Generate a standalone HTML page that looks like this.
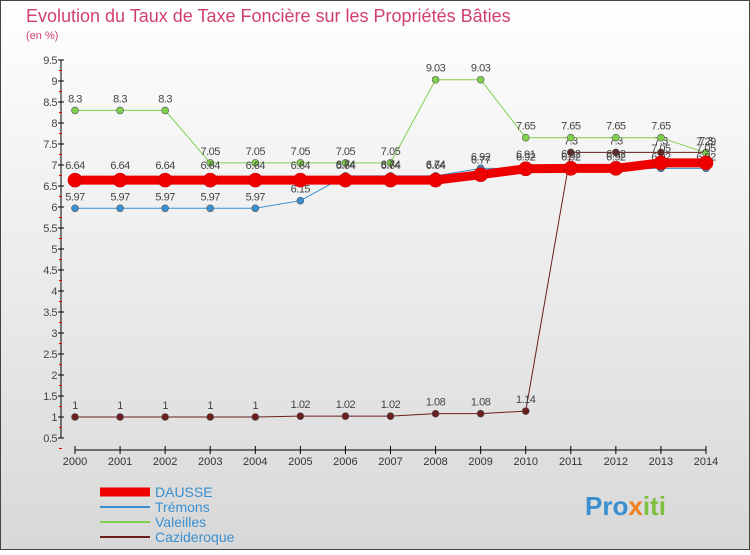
<!DOCTYPE html>
<html><head><meta charset="utf-8"><style>
body{margin:0;width:750px;height:550px;overflow:hidden;font-family:"Liberation Sans",sans-serif}
</style></head><body>
<svg id="c" width="750" height="550" xmlns="http://www.w3.org/2000/svg">
<defs><linearGradient id="bg" x1="0" y1="0" x2="0" y2="1"><stop offset="0" stop-color="#ffffff"/><stop offset="1" stop-color="#d8d8d8"/></linearGradient></defs>
<rect x="0.5" y="0.5" width="749" height="549" fill="url(#bg)" stroke="#444"/>
<text x="26" y="22" font-size="18" fill="#d0406a">Evolution du Taux de Taxe Foncière sur les Propriétés Bâties</text>
<text x="26" y="39" font-size="11" fill="#d0406a">(en %)</text>
<g id="axes"></g><g id="series"></g><g id="legend"></g>
<text x="585" y="515" font-size="26" font-weight="bold" fill="#3a8fd0">Pro<tspan fill="#f08020">x</tspan><tspan fill="#80c040">iti</tspan></text>
</svg>
<script>
const years=[2000,2001,2002,2003,2004,2005,2006,2007,2008,2009,2010,2011,2012,2013,2014];
const yTicks=[0.5,1,1.5,2,2.5,3,3.5,4,4.5,5,5.5,6,6.5,7,7.5,8,8.5,9,9.5];
const dausse=[6.64,6.64,6.64,6.64,6.64,6.64,6.64,6.64,6.64,6.77,6.91,6.92,6.92,7.05,7.05];
const tremons=[5.97,5.97,5.97,5.97,5.97,6.15,6.74,6.74,6.74,6.92,6.92,6.92,6.92,6.92,6.92];
const valeilles=[8.3,8.3,8.3,7.05,7.05,7.05,7.05,7.05,9.03,9.03,7.65,7.65,7.65,7.65,7.29];
const cazideroque=[1,1,1,1,1,1.02,1.02,1.02,1.08,1.08,1.14,7.3,7.3,7.3,7.3];
const NS="http://www.w3.org/2000/svg";
const X=i=>75+i*(706-75)/(years.length-1);
const Y=v=>438-(v-0.5)*42;
function mk(p,t,a){const e=document.createElementNS(NS,t);for(const k in a)e.setAttribute(k,a[k]);p.appendChild(e);return e;}
const ax=document.getElementById('axes');
const yl=mk(ax,'line',{x1:61,y1:Y(9.5),x2:61,y2:Y(0.5),stroke:'#000'});


yTicks.forEach(v=>{
  mk(ax,'line',{x1:58,y1:Y(v),x2:64,y2:Y(v),stroke:'#000'});
  mk(ax,'line',{x1:59,y1:Y(v)+10.5,x2:62,y2:Y(v)+10.5,stroke:'#e00'});
  const t=mk(ax,'text',{x:57,y:Y(v)+4,'text-anchor':'end','font-size':11,fill:'#444','letter-spacing':'-0.5'});
  t.textContent=v;
  
  
});
const xl=mk(ax,'line',{x1:X(0),y1:450,x2:X(14),y2:450,stroke:'#000'});


years.forEach((y,i)=>{
  mk(ax,'line',{x1:X(i),y1:446,x2:X(i),y2:454,stroke:'#000'});
  const t=mk(ax,'text',{x:X(i),y:465,'text-anchor':'middle','font-size':11,fill:'#333'});
  t.textContent=y;
  
  
});
const sg=document.getElementById('series');
const series=[
 {name:'cazideroque',d:cazideroque,c:'#6b1e1e',w:1,r:3.5},
 {name:'valeilles',d:valeilles,c:'#80d050',w:1,r:3.5},
 {name:'tremons',d:tremons,c:'#3a8fd0',w:1,r:3.5},
 {name:'dausse',d:dausse,c:'#ee0000',w:9,r:7}
];
series.forEach(s=>{
  const g=mk(sg,'g',{});
  
  
  const pl=mk(g,'polyline',{points:s.d.map((v,i)=>X(i)+','+Y(v)).join(' '),fill:'none',stroke:s.c,'stroke-width':s.w});
  
  
  s.d.forEach((v,i)=>{
    const c=mk(g,'circle',{cx:X(i),cy:Y(v),r:s.r,fill:s.c,stroke:s.name==='dausse'?'#c00':'#555','stroke-width':0.6});
    
    
    const t=mk(g,'text',{x:X(i),y:Y(v)-(s.name==='dausse'?11:8),'text-anchor':'middle','font-size':11,fill:'#444','letter-spacing':'-0.5'});
    t.textContent=v;
    
    
  });
});
const lg=document.getElementById('legend');
const leg=[['DAUSSE','#ee0000',9],['Trémons','#3a8fd0',2],['Valeilles','#80d050',2],['Cazideroque','#6b1e1e',2]];
leg.forEach((l,i)=>{
  const y=492+i*15;
  const g=mk(lg,'g',{});
  
  
  mk(g,'line',{x1:100,y1:y,x2:150,y2:y,stroke:l[1],'stroke-width':l[2]});
  const t=mk(g,'text',{x:155,y:y+5,'font-size':14,fill:'#3a8fd0'});
  t.textContent=l[0];
});
</script>
</body></html>
